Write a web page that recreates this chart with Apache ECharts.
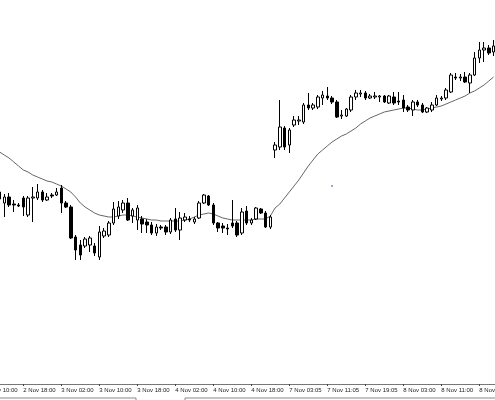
<!DOCTYPE html>
<html>
<head>
<meta charset="utf-8">
<script src="https://cdn.jsdelivr.net/npm/echarts@6/dist/echarts.min.js"></script>
<style>
html,body{margin:0;padding:0;background:#fff;}
#chart{width:495px;height:400px;}
</style>
</head>
<body>
<div id="chart"></div>
<script>
// Hourly bars: day, first hour, last hour, minute suffix
const daySegments = [
  ['2 Nov', 10, 23, '00'],
  ['3 Nov', 0, 23, '00'],
  ['4 Nov', 0, 22, '00'],
  ['7 Nov', 0, 23, '05'],
  ['8 Nov', 0, 22, '00']
];
const leadEmpty = 3; // 2 Nov 10:00..12:00 have no visible candle

const open = [
1.3808,1.3797,1.3803,1.3796,1.3795,1.3802,1.3785,1.3802,1.3802,1.3808,
1.3800,1.3805,1.3805,1.3812,1.3797,1.3793,1.3763,1.3755,1.3754,1.3755,
1.3754,1.3743,1.3764,1.3765,1.3777,1.3784,1.3790,1.3797,1.3784,1.3780,
1.3781,1.3778,1.3775,1.3767,1.3773,1.3773,1.3768,1.3781,1.3770,1.3780,
1.3781,1.3778,1.3782,1.3797,1.3804,1.3795,1.3777,1.3774,1.3772,1.3777,
1.3777,1.3767,1.3789,1.3777,1.3781,1.3791,1.3787,1.3773,1.3850,1.3853,
1.3872,1.3855,1.3875,1.3879,1.3878,1.3895,1.3892,1.3893,1.3902,1.3904,
1.3902,1.3898,1.3884,1.3884,1.3890,1.3903,1.3906,1.3907,1.3902,1.3903,
1.3903,1.3904,1.3897,1.3903,1.3899,1.3900,1.3893,1.3890,1.3898,1.3895,
1.3888,1.3890,1.3895,1.3901,1.3902,1.3908,1.3923,1.3922,1.3923,1.3917,
1.3925,1.3942,1.3950,1.3952,1.3948];
const close = [
1.3801,1.3803,1.3795,1.3795,1.3794,1.3793,1.3802,1.3803,1.3808,1.3800,
1.3803,1.3804,1.3808,1.3797,1.3793,1.3762,1.3750,1.3745,1.3761,1.3762,
1.3747,1.3768,1.3769,1.3777,1.3791,1.3793,1.3797,1.3780,1.3790,1.3792,
1.3776,1.3775,1.3767,1.3773,1.3772,1.3768,1.3780,1.3770,1.3782,1.3783,
1.3780,1.3781,1.3797,1.3805,1.3795,1.3777,1.3772,1.3772,1.3771,1.3774,
1.3765,1.3788,1.3777,1.3780,1.3792,1.3787,1.3773,1.3783,1.3855,1.3873,
1.3853,1.3870,1.3880,1.3880,1.3895,1.3892,1.3895,1.3903,1.3905,1.3902,
1.3898,1.3883,1.3885,1.3891,1.3903,1.3907,1.3907,1.3902,1.3904,1.3904,
1.3904,1.3898,1.3904,1.3897,1.3898,1.3892,1.3890,1.3898,1.3895,1.3888,
1.3892,1.3895,1.3902,1.3902,1.3910,1.3925,1.3922,1.3923,1.3918,1.3925,
1.3942,1.3950,1.3952,1.3947,1.3954];
const high = [
1.3810,1.3806,1.3807,1.3800,1.3797,1.3804,1.3804,1.3813,1.3816,1.3810,
1.3807,1.3807,1.3812,1.3815,1.3799,1.3795,1.3765,1.3760,1.3763,1.3764,
1.3757,1.3774,1.3772,1.3779,1.3798,1.3799,1.3800,1.3802,1.3792,1.3795,
1.3784,1.3781,1.3778,1.3776,1.3775,1.3775,1.3782,1.3792,1.3788,1.3787,
1.3784,1.3783,1.3799,1.3806,1.3805,1.3797,1.3778,1.3777,1.3776,1.3800,
1.3779,1.3792,1.3794,1.3782,1.3793,1.3792,1.3789,1.3785,1.3858,1.3900,
1.3874,1.3872,1.3884,1.3884,1.3897,1.3907,1.3897,1.3905,1.3909,1.3913,
1.3904,1.3900,1.3890,1.3892,1.3905,1.3910,1.3910,1.3909,1.3906,1.3908,
1.3905,1.3905,1.3905,1.3908,1.3908,1.3905,1.3895,1.3900,1.3900,1.3897,
1.3893,1.3898,1.3905,1.3904,1.3912,1.3927,1.3927,1.3926,1.3928,1.3927,
1.3948,1.3958,1.3958,1.3955,1.3960];
const low = [
1.3798,1.3783,1.3793,1.3788,1.3793,1.3784,1.3783,1.3778,1.3800,1.3798,
1.3799,1.3802,1.3804,1.3787,1.3792,1.3761,1.3740,1.3740,1.3752,1.3748,
1.3744,1.3740,1.3762,1.3763,1.3775,1.3781,1.3787,1.3779,1.3777,1.3770,
1.3767,1.3767,1.3765,1.3764,1.3770,1.3765,1.3766,1.3768,1.3760,1.3778,
1.3778,1.3776,1.3781,1.3796,1.3794,1.3775,1.3768,1.3767,1.3765,1.3772,
1.3763,1.3765,1.3775,1.3775,1.3780,1.3786,1.3772,1.3771,1.3842,1.3850,
1.3850,1.3847,1.3873,1.3875,1.3876,1.3890,1.3890,1.3891,1.3895,1.3900,
1.3896,1.3882,1.3881,1.3883,1.3888,1.3900,1.3903,1.3900,1.3901,1.3901,
1.3898,1.3897,1.3896,1.3895,1.3895,1.3888,1.3888,1.3884,1.3893,1.3887,
1.3887,1.3888,1.3894,1.3899,1.3900,1.3907,1.3920,1.3919,1.3917,1.3907,
1.3924,1.3937,1.3938,1.3945,1.3944];
const movingAverage = [
1.3848,1.3845,1.3842,1.3838,1.3834,1.3830,1.3828,1.3825,1.3823,1.3821,
1.3819,1.3818,1.3816,1.3814,1.3811,1.3808,1.3803,1.3797,1.3793,1.3790,
1.3787,1.3785,1.3784,1.3783,1.3783,1.3784,1.3785,1.3785,1.3784,1.3783,
1.3782,1.3781,1.3780,1.3780,1.3779,1.3779,1.3779,1.3779,1.3779,1.3780,
1.3781,1.3783,1.3785,1.3786,1.3787,1.3786,1.3784,1.3782,1.3781,1.3780,
1.3780,1.3780,1.3780,1.3780,1.3781,1.3781,1.3781,1.3784,1.3792,1.3796,
1.3802,1.3808,1.3814,1.3820,1.3827,1.3834,1.3840,1.3846,1.3850,1.3854,
1.3858,1.3861,1.3864,1.3866,1.3869,1.3872,1.3876,1.3879,1.3882,1.3884,
1.3886,1.3888,1.3889,1.3890,1.3891,1.3892,1.3892,1.3891,1.3890,1.3890,
1.3891,1.3892,1.3893,1.3894,1.3896,1.3898,1.3900,1.3902,1.3904,1.3907,
1.3909,1.3912,1.3915,1.3919,1.3923];
const markerTime = ['7 Nov 12:05'];
const markerPrice = [1.3814];

// ---- build categories and series data ----
const categories = [];
daySegments.forEach(([day, h0, h1, mm]) => {
  for (let h = h0; h <= h1; h++) categories.push(day + ' ' + String(h).padStart(2, '0') + ':' + mm);
});
const candleData = categories.map((c, i) => {
  const j = i - leadEmpty;
  return j < 0 ? '-' : [open[j], close[j], low[j], high[j]];
});
const maData = categories.map((c, i) => {
  const j = i - leadEmpty;
  return j < 0 ? '-' : movingAverage[j];
});
const markerData = markerTime.map((t, i) => [t, markerPrice[i]]);

const barStep = 4.75;
const firstCenter = -0.45 - leadEmpty * barStep;
const gridLeft = firstCenter - barStep / 2;
const gridWidth = categories.length * barStep;
const gridRight = 495 - gridLeft - gridWidth;

const chart = echarts.init(document.getElementById('chart'), null, {renderer: 'canvas'});
chart.setOption({
  animation: false,
  backgroundColor: '#ffffff',
  grid: {left: gridLeft, right: gridRight, top: 0, bottom: 16, containLabel: false, outerBoundsMode: 'none'},
  xAxis: {
    type: 'category',
    data: categories,
    boundaryGap: true,
    axisLine: {show: true, lineStyle: {color: '#777', width: 1}},
    axisTick: {show: true, alignWithLabel: true, length: 2, interval: (i) => i % 8 === 0, lineStyle: {color: '#444'}},
    axisLabel: {
      show: true, interval: (i) => i % 8 === 0, align: 'left', margin: 3,
      fontSize: 6, fontFamily: 'Liberation Sans', color: '#222'
    },
    splitLine: {show: false}
  },
  yAxis: {
    type: 'value', min: 1.3616, max: 1.4000, show: false, splitLine: {show: false}
  },
  series: [
    {
      type: 'candlestick',
      data: candleData,
      barWidth: 3,
      itemStyle: {color: '#ffffff', color0: '#000000', borderColor: '#000000', borderColor0: '#000000', borderWidth: 1},
      emphasis: {disabled: true}
    },
    {
      type: 'line',
      data: maData,
      symbol: 'none',
      lineStyle: {color: '#666', width: 1},
      emphasis: {disabled: true},
      z: 1
    },
    {
      type: 'scatter',
      data: markerData,
      symbolSize: 2,
      itemStyle: {color: '#5a6fa8'},
      emphasis: {disabled: true}
    }
  ],
  graphic: [
    {type: 'polyline', shape: {points: [[0, 398], [136, 398], [136, 400]]}, style: {stroke: '#888', fill: null, lineWidth: 1}},
    {type: 'polyline', shape: {points: [[185, 400], [185, 398], [495, 398]]}, style: {stroke: '#888', fill: null, lineWidth: 1}}
  ]
});
</script>
</body>
</html>
